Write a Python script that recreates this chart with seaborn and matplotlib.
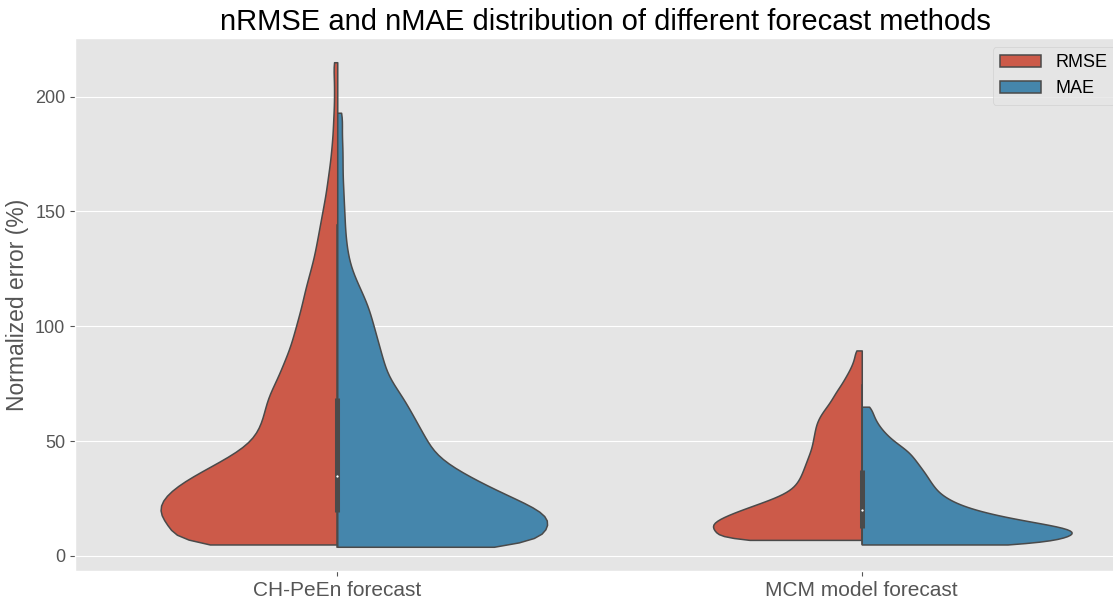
import numpy as np
import pandas as pd
import matplotlib
matplotlib.use("Agg")
import matplotlib.pyplot as plt
import seaborn as sns

plt.style.use("ggplot")
plt.rcParams["font.family"] = ["Liberation Sans", "DejaVu Sans"]

categories = ["CH-PeEn forecast", "MCM model forecast"]
metrics = ["RMSE", "MAE"]

ch_rmse_vals = [5, 10, 15, 20, 25, 30, 35, 40, 45, 50, 55, 60, 65, 70, 75, 80, 85, 90, 95, 100,
                105, 110, 115, 120, 125, 130, 135, 140, 145, 150, 155, 160, 165, 170, 175, 180,
                185, 190, 195, 200, 205, 210, 215]
ch_rmse_cnt = [180, 146, 166, 171, 166, 154, 136, 115, 95, 80, 74, 70, 68, 65, 59, 54, 50, 45, 42, 39,
               36, 33, 31, 28, 25, 22, 20, 18, 16, 14, 12, 10, 9, 7, 6, 5,
               4, 4, 3, 3, 3, 3, 5]

ch_mae_vals = [4, 9, 14, 19, 24, 29, 34, 39, 44, 49, 54, 59, 64, 69, 74, 79, 84, 89, 94, 99,
               104, 109, 114, 119, 124, 129, 134, 139, 144, 149, 154, 159, 164, 169, 174, 179,
               184, 189, 193]
ch_mae_cnt = [218, 184, 207, 198, 172, 148, 127, 107, 92, 86, 80, 74, 68, 62, 54, 47, 44, 41, 38, 35,
              32, 29, 24, 19, 14, 11, 9, 8, 7, 7, 6, 6, 5, 5, 5, 5,
              4, 4, 5]

mcm_rmse_vals = [7, 9.5, 12, 14.5, 17, 19.5, 22, 24.5, 27, 29.5, 32, 34.5, 37, 39.5, 42, 44.5, 47,
                 49.5, 52, 54.5, 57, 59.5, 62, 64.5, 67, 69.5, 72, 74.5, 77, 79.5, 82, 84.5, 87, 89.5]
mcm_rmse_cnt = [150, 126, 140, 138, 127, 114, 99, 84, 71, 63, 59, 56, 54, 52, 50, 48, 46,
                45, 44, 43, 42, 40, 37, 33, 29, 26, 23, 19, 16, 13, 10, 8, 6, 7]

mcm_mae_vals = [5, 7.5, 10, 12.5, 15, 17.5, 20, 22.5, 25, 27.5, 30, 32.5, 35, 37.5, 40, 42.5, 45,
                47.5, 50, 52.5, 55, 57.5, 60, 62.5, 65]
mcm_mae_cnt = [190, 180, 212, 192, 156, 128, 106, 90, 80, 72, 68, 64, 61, 57, 53, 49, 45,
               38, 30, 24, 19, 15, 12, 10, 9]

samples = {
    (categories[0], "RMSE"): (ch_rmse_vals, ch_rmse_cnt),
    (categories[0], "MAE"): (ch_mae_vals, ch_mae_cnt),
    (categories[1], "RMSE"): (mcm_rmse_vals, mcm_rmse_cnt),
    (categories[1], "MAE"): (mcm_mae_vals, mcm_mae_cnt),
}

frames = []
for (cat, metric), (vals, cnt) in samples.items():
    frames.append(pd.DataFrame({"Method": cat, "Metric": metric,
                                "Error": np.repeat(np.asarray(vals, float), cnt)}))
df = pd.concat(frames, ignore_index=True)


def bw(h):
    return lambda k: h / np.std(k.dataset, ddof=1)


fig = plt.figure(figsize=(11.13, 6.02), dpi=100)
ax = fig.add_axes([75 / 1113, 31 / 602, 1049 / 1113, 533 / 602])

lw = 1.1
gray = "#4a4a4a"
bandwidths = [4.6, 2.2]
for i, cat in enumerate(categories):
    sub = df[df["Method"] == cat]
    sns.violinplot(data=sub, x="Method", y="Error", hue="Metric", order=categories,
                   hue_order=metrics, split=True, cut=0, inner=None, density_norm="area",
                   common_norm=True, bw_method=bw(bandwidths[i]), linewidth=lw,
                   linecolor=gray, ax=ax, legend=(i == 0))
    # inner box drawn for the combined data of both metrics
    data = sub["Error"].to_numpy()
    q25, q50, q75 = np.percentile(data, [25, 50, 75])
    lim = 1.5 * (q75 - q25)
    h1 = data[data >= q25 - lim].min()
    h2 = data[data <= q75 + lim].max()
    ax.plot([i, i], [h1, h2], color=gray, lw=lw, zorder=3)
    ax.plot([i, i], [q25, q75], color=gray, lw=lw * 3.3, zorder=3, solid_capstyle="butt")
    ax.scatter([i], [q50], s=(lw * 2) ** 2, color="white", edgecolor=gray, zorder=4)

ax.set_xlim(-0.5, 1.5)
ax.set_xlabel("")
ax.set_ylabel("Normalized error (%)", fontsize=16.5)
ax.set_title("nRMSE and nMAE distribution of different forecast methods",
             fontsize=21, color="black", x=0.506)
ax.tick_params(axis="x", labelsize=15)
ax.tick_params(axis="y", labelsize=13)
ax.legend(loc="upper right", fontsize=13, title=None, handlelength=2.3)

fig.savefig("out.png", dpi=100)
